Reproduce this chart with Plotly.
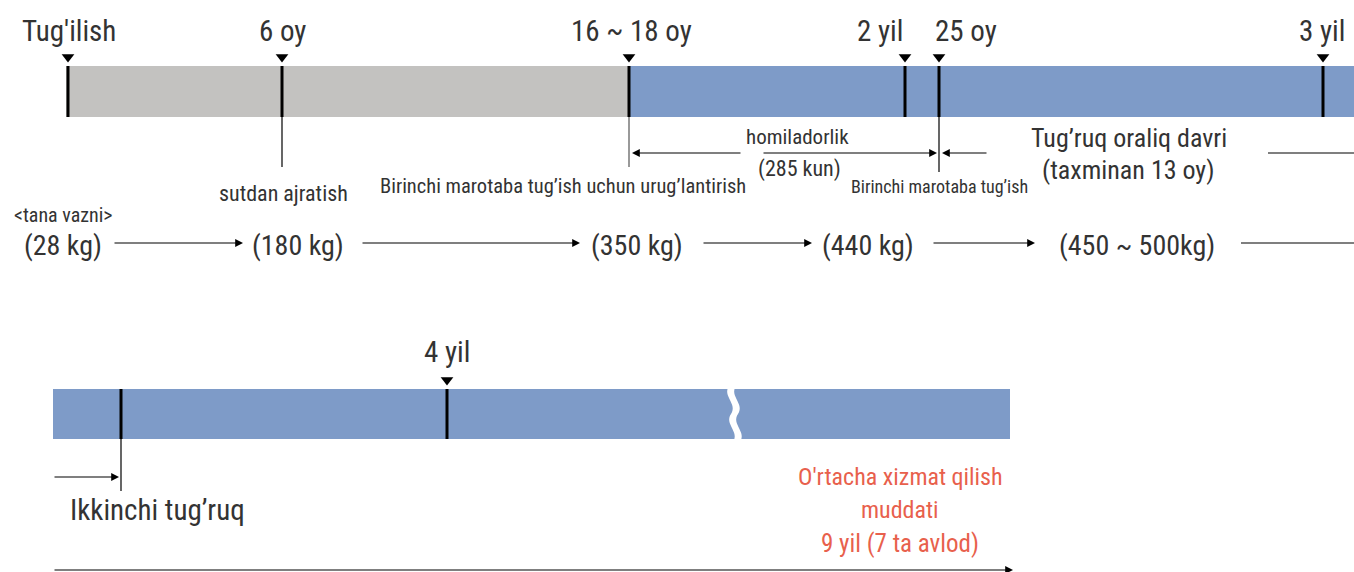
import plotly.graph_objects as go

# ---------------- data ----------------
# top timeline milestones (position along diagram, label)
top_labels = ["Tug'ilish", "6 oy", "16 ~ 18 oy", "2 yil", "25 oy", "3 yil"]
top_pos = [68, 282, 629, 905, 939, 1323]
top_label_x = [69, 282, 631, 880, 966, 1322]

# bottom timeline milestones
bot_labels = ["", "4 yil"]
bot_pos = [121, 447]

# body weights along the timeline
weights = ["(28 kg)", "(180 kg)", "(350 kg)", "(440 kg)", "(450 ~ 500kg)"]
weight_x = [63, 298, 637, 868, 1137]
weight_arrows = [(113, 243), (361, 580), (702, 812), (932, 1035)]

# event captions below the top bar
events = ["sutdan ajratish", "Birinchi marotaba tug\u2019ish uchun urug\u2019lantirish", "Birinchi marotaba tug\u2019ish"]
event_x = [283, 563, 939]

# ---------------- styling ----------------
FONT = "Roboto Condensed, Liberation Sans Narrow, DejaVu Sans Condensed, sans-serif"
TXT = "#333333"
GREY = "#c3c2c0"
BLUE = "#7e9bc8"
RED = "#e8604c"

fig = go.Figure()
shapes = []
ann = []

def line(x0, y0, x1, y1, w=1.2, c="black"):
    shapes.append(dict(type="line", x0=x0, y0=y0, x1=x1, y1=y1, xref="x", yref="y",
                       line=dict(color=c, width=w)))

def arrow(x0, y, x1, w=1.2):
    ann.append(dict(x=x1, y=y, ax=x0, ay=y, xref="x", yref="y", axref="x", ayref="y",
                    text="", showarrow=True, arrowhead=2, arrowsize=1.3, arrowwidth=w,
                    arrowcolor="black", standoff=0))

def text(x, y, s, size=24, color=TXT, xanchor="center"):
    ann.append(dict(x=x, y=y, xref="x", yref="y", text=s, showarrow=False,
                    font=dict(family=FONT, size=size, color=color),
                    xanchor=xanchor, yanchor="middle"))

# ---- top bar
shapes.append(dict(type="rect", x0=66, x1=629, y0=66, y1=117, xref="x", yref="y",
                   fillcolor=GREY, line=dict(width=0), layer="below"))
shapes.append(dict(type="rect", x0=629, x1=1354, y0=66, y1=117, xref="x", yref="y",
                   fillcolor=BLUE, line=dict(width=0), layer="below"))
for p in top_pos:
    line(p, 66, p, 117, w=3)
fig.add_trace(go.Scatter(x=top_pos, y=[57] * len(top_pos), mode="markers",
                         marker=dict(symbol="triangle-down", size=11, color="black"),
                         hoverinfo="skip", showlegend=False))
for lab, lx in zip(top_labels, top_label_x):
    text(lx, 31, lab, size=29)

# thin drop lines
line(282, 117, 282, 167, w=1.2)
line(629, 117, 629, 167, w=1.2, c="#555555")
line(939, 117, 939, 172, w=1.2)

# gestation arrows
arrow(742, 153, 632)
arrow(762, 153, 937)
text(797, 137, "homiladorlik", size=21)
text(799, 169, "(285 kun)", size=22)
# calving interval
arrow(988, 153, 942)
line(1268, 153, 1354, 153)
text(1129, 138, "Tug\u2019ruq oraliq davri", size=26)
text(1128, 170, "(taxminan 13 oy)", size=26)

# event captions
text(event_x[0], 193, events[0], size=22)
text(event_x[1], 186, events[1], size=20.5)
text(event_x[2], 186, events[2], size=18)

# weights
text(12, 215, "<tana vazni>", size=20, xanchor="left")
for w_, wx in zip(weights, weight_x):
    text(wx, 245, w_, size=28)
for a, b in weight_arrows:
    arrow(a, 243, b)
line(1241, 243, 1354, 243)

# ---- bottom bar
shapes.append(dict(type="rect", x0=53, x1=1010, y0=389, y1=439, xref="x", yref="y",
                   fillcolor=BLUE, line=dict(width=0), layer="below"))
# wavy break
shapes.append(dict(type="path",
                   path="M 729 386 C 722 396, 738 404, 731 414 C 724 424, 740 432, 733 442 "
                        "L 740 442 C 747 432, 731 424, 738 414 C 745 404, 729 396, 736 386 Z",
                   xref="x", yref="y", fillcolor="white", line=dict(width=0)))
for p in bot_pos:
    line(p, 389, p, 439, w=3)
line(bot_pos[0], 439, bot_pos[0], 491, w=1.2)
fig.add_trace(go.Scatter(x=[bot_pos[1]], y=[380], mode="markers",
                         marker=dict(symbol="triangle-down", size=11, color="black"),
                         hoverinfo="skip", showlegend=False))
text(bot_pos[1], 352, bot_labels[1], size=29)

arrow(53, 477, 119)
text(68, 510, "Ikkinchi tug\u2019ruq", size=29, xanchor="left")

text(900, 477, "O'rtacha xizmat qilish", size=24, color=RED)
text(900, 510, "muddati", size=24, color=RED)
text(900, 543, "9 yil (7 ta avlod)", size=25, color=RED)

arrow(53, 570, 1013)

fig.update_layout(
    width=1354, height=572,
    margin=dict(l=0, r=0, t=0, b=0),
    paper_bgcolor="white", plot_bgcolor="white",
    xaxis=dict(range=[0, 1354], visible=False, fixedrange=True),
    yaxis=dict(range=[572, 0], visible=False, fixedrange=True),
    shapes=shapes, annotations=ann, showlegend=False,
)
fig.write_html("out.html", config={"displayModeBar": False},
               post_script="document.body.style.margin='0';")
